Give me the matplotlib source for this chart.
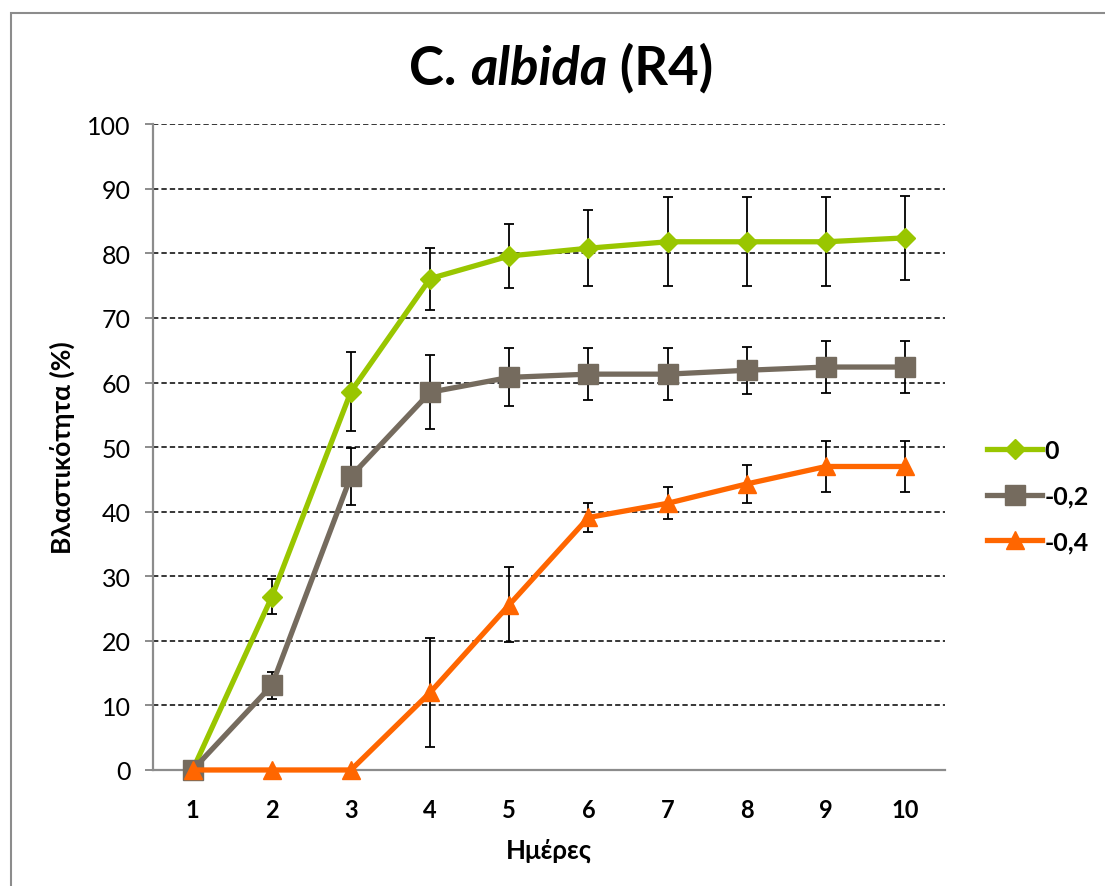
import matplotlib
matplotlib.use("Agg")
import matplotlib.pyplot as plt
from matplotlib.offsetbox import TextArea, HPacker, AnnotationBbox
from matplotlib.patches import Rectangle

plt.rcParams['font.family'] = ['Lato', 'DejaVu Sans']

days = [1, 2, 3, 4, 5, 6, 7, 8, 9, 10]
labels = ['0', '-0,2', '-0,4']
colors = ['#99c600', '#756b5e', '#ff6600']
markers = ['D', 's', '^']
msizes = [10.5, 14, 13.5]

# mean germination (%) and error per treatment
vals_0 = [0, 26.8, 58.6, 76.1, 79.6, 80.8, 81.8, 81.8, 81.8, 82.4]
err_0 = [0, 2.7, 6.1, 4.8, 5.0, 5.9, 6.9, 6.9, 6.9, 6.5]
vals_02 = [0, 13.1, 45.5, 58.5, 60.8, 61.3, 61.3, 61.9, 62.4, 62.4]
err_02 = [0, 2.1, 4.4, 5.7, 4.5, 4.0, 4.0, 3.6, 4.0, 4.0]
vals_04 = [0, 0, 0, 12.0, 25.6, 39.1, 41.3, 44.3, 47.0, 47.0]
err_04 = [0, 0, 0, 8.5, 5.8, 2.3, 2.5, 3.0, 3.9, 3.9]

series = [(vals_0, err_0), (vals_02, err_02), (vals_04, err_04)]

fig = plt.figure(figsize=(11.05, 8.87), dpi=100)
ax = fig.add_axes([0.1385, 0.1308, 0.7165, 0.728])

# outer chart frame
fig.patches.append(Rectangle((11 / 1105, -0.01), 1.1, 1 - 14 / 887 + 0.01,
                             transform=fig.transFigure, fill=False,
                             edgecolor='#8c8c8c', linewidth=1.5))

for (v, e), lab, c, m, ms in zip(series, labels, colors, markers, msizes):
    ax.errorbar(days, v, yerr=e, fmt='none', ecolor='black', elinewidth=1.3,
                capsize=3.8, capthick=1.3, zorder=2)
    ax.plot(days, v, color=c, marker=m, markersize=ms, linewidth=3.8,
            label=lab, zorder=3, clip_on=False)

ax.set_xlim(0.5, 10.5)
ax.set_ylim(0, 100)
ax.set_yticks(range(0, 101, 10))
ax.set_xticks(days)
ax.yaxis.grid(True, linestyle=(0, (3.5, 2)), color='black', linewidth=1.1)
ax.set_axisbelow(True)

for s in ['top', 'right']:
    ax.spines[s].set_visible(False)
for s in ['left', 'bottom']:
    ax.spines[s].set_color('#8c8c8c')
    ax.spines[s].set_linewidth(1.6)

ax.tick_params(axis='y', length=6, width=1.4, color='#8c8c8c', labelsize=18, pad=10)
ax.tick_params(axis='x', length=0, labelsize=17, pad=20)
for t in ax.get_xticklabels():
    t.set_fontweight('bold')

ax.set_xlabel('Ημέρες', fontsize=18.5, fontweight='bold', labelpad=12)
ax.set_ylabel('Βλαστικότητα (%)', fontsize=19, fontweight='bold', labelpad=9)

leg = ax.legend(loc='center left', bbox_to_anchor=(1.025, 0.424), frameon=False,
                fontsize=18, handlelength=2.2, labelspacing=0.9, handletextpad=0.1)
for t in leg.get_texts():
    t.set_fontweight('bold')

# title with mixed styles
tfs = 38
parts = [TextArea('C. ', textprops=dict(fontsize=tfs, fontweight='bold')),
         TextArea('albida', textprops=dict(fontsize=tfs, fontweight='bold', fontstyle='italic')),
         TextArea(' (R4)', textprops=dict(fontsize=tfs, fontweight='bold'))]
box = HPacker(children=parts, align='baseline', pad=0, sep=0)
ab = AnnotationBbox(box, (0.508, 0.923), xycoords='figure fraction', frameon=False,
                    box_alignment=(0.5, 0.5))
fig.add_artist(ab)

fig.savefig('out.png', dpi=100)
